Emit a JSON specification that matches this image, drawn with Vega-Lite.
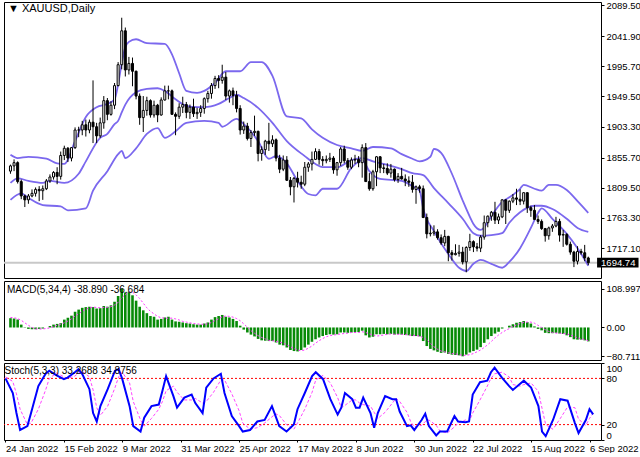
{
"$schema":"https://vega.github.io/schema/vega-lite/v6.json",
"padding":{"left":0,"top":-1,"right":0,"bottom":0},
"autosize":{"type":"pad"},
"spacing":3,
"bounds":"flush",
"background":"white",
"config":{
 "view":{"stroke":"#000000","strokeWidth":1},
 "axis":{"labelFont":"Liberation Sans","labelFontSize":9.5,"labelColor":"#000000","tickColor":"#000000","domain":false,"grid":false,"tickSize":3,"labelPadding":2},
 "title":{"font":"Liberation Sans","fontSize":11,"fontWeight":"normal","color":"#000000","anchor":"start"}
},
"datasets":{
"c":[
{"i":0,"o":1835,"h":1845,"l":1831,"c":1843},{"i":1,"o":1843,"h":1853,"l":1835,"c":1848},{"i":2,"o":1848,"h":1850,"l":1816,"c":1819},{"i":3,"o":1819,"h":1822,"l":1792,"c":1797},{"i":4,"o":1797,"h":1799,"l":1780,"c":1791},
{"i":5,"o":1791,"h":1800,"l":1785,"c":1797},{"i":6,"o":1797,"h":1807,"l":1795,"c":1801},{"i":7,"o":1801,"h":1810,"l":1796,"c":1807},{"i":8,"o":1807,"h":1812,"l":1789,"c":1805},{"i":9,"o":1805,"h":1813,"l":1791,"c":1808},
{"i":10,"o":1808,"h":1823,"l":1806,"c":1820},{"i":11,"o":1820,"h":1830,"l":1817,"c":1826},{"i":12,"o":1826,"h":1835,"l":1822,"c":1833},{"i":13,"o":1833,"h":1841,"l":1815,"c":1827},{"i":14,"o":1827,"h":1865,"l":1822,"c":1859},
{"i":15,"o":1859,"h":1874,"l":1852,"c":1870},{"i":16,"o":1870,"h":1872,"l":1849,"c":1855},{"i":17,"o":1855,"h":1872,"l":1850,"c":1871},{"i":18,"o":1871,"h":1902,"l":1869,"c":1898},{"i":19,"o":1898,"h":1903,"l":1887,"c":1898},
{"i":20,"o":1898,"h":1912,"l":1890,"c":1906},{"i":21,"o":1906,"h":1914,"l":1888,"c":1898},{"i":22,"o":1898,"h":1914,"l":1893,"c":1910},{"i":23,"o":1910,"h":1974,"l":1878,"c":1903},{"i":24,"o":1903,"h":1909,"l":1878,"c":1889},
{"i":25,"o":1889,"h":1917,"l":1886,"c":1909},{"i":26,"o":1909,"h":1950,"l":1900,"c":1943},{"i":27,"o":1943,"h":1947,"l":1913,"c":1922},{"i":28,"o":1922,"h":1942,"l":1920,"c":1936},{"i":29,"o":1936,"h":1970,"l":1930,"c":1966},
{"i":30,"o":1966,"h":2002,"l":1965,"c":1998},{"i":31,"o":1998,"h":2070,"l":1991,"c":2050},{"i":32,"o":2050,"h":2055,"l":1980,"c":1990},{"i":33,"o":1990,"h":2010,"l":1983,"c":2000},{"i":34,"o":2000,"h":2009,"l":1965,"c":1988},
{"i":35,"o":1988,"h":1989,"l":1945,"c":1950},{"i":36,"o":1950,"h":1954,"l":1906,"c":1917},{"i":37,"o":1917,"h":1950,"l":1895,"c":1928},{"i":38,"o":1928,"h":1949,"l":1920,"c":1943},{"i":39,"o":1943,"h":1945,"l":1917,"c":1921},
{"i":40,"o":1921,"h":1943,"l":1917,"c":1936},{"i":41,"o":1936,"h":1938,"l":1910,"c":1921},{"i":42,"o":1921,"h":1948,"l":1920,"c":1944},{"i":43,"o":1944,"h":1966,"l":1943,"c":1958},{"i":44,"o":1958,"h":1966,"l":1945,"c":1958},
{"i":45,"o":1958,"h":1960,"l":1922,"c":1922},{"i":46,"o":1922,"h":1925,"l":1890,"c":1919},{"i":47,"o":1919,"h":1939,"l":1915,"c":1933},{"i":48,"o":1933,"h":1949,"l":1924,"c":1937},{"i":49,"o":1937,"h":1941,"l":1916,"c":1925},
{"i":50,"o":1925,"h":1937,"l":1915,"c":1933},{"i":51,"o":1933,"h":1946,"l":1918,"c":1923},{"i":52,"o":1923,"h":1932,"l":1915,"c":1925},{"i":53,"o":1925,"h":1936,"l":1918,"c":1931},{"i":54,"o":1931,"h":1948,"l":1923,"c":1946},
{"i":55,"o":1946,"h":1958,"l":1940,"c":1954},{"i":56,"o":1954,"h":1970,"l":1946,"c":1966},{"i":57,"o":1966,"h":1981,"l":1961,"c":1977},{"i":58,"o":1977,"h":1982,"l":1962,"c":1974},{"i":59,"o":1974,"h":1998,"l":1969,"c":1979},
{"i":60,"o":1979,"h":1987,"l":1944,"c":1950},{"i":61,"o":1950,"h":1960,"l":1940,"c":1958},{"i":62,"o":1958,"h":1963,"l":1936,"c":1951},{"i":63,"o":1951,"h":1958,"l":1925,"c":1931},{"i":64,"o":1931,"h":1936,"l":1891,"c":1898},
{"i":65,"o":1898,"h":1911,"l":1892,"c":1904},{"i":66,"o":1904,"h":1909,"l":1882,"c":1885},{"i":67,"o":1885,"h":1898,"l":1872,"c":1894},{"i":68,"o":1894,"h":1920,"l":1889,"c":1896},{"i":69,"o":1896,"h":1897,"l":1850,"c":1862},
{"i":70,"o":1862,"h":1873,"l":1851,"c":1868},{"i":71,"o":1868,"h":1883,"l":1860,"c":1881},{"i":72,"o":1881,"h":1909,"l":1866,"c":1877},{"i":73,"o":1877,"h":1890,"l":1872,"c":1883},{"i":74,"o":1883,"h":1885,"l":1850,"c":1855},
{"i":75,"o":1855,"h":1860,"l":1832,"c":1838},{"i":76,"o":1838,"h":1859,"l":1835,"c":1852},{"i":77,"o":1852,"h":1858,"l":1820,"c":1821},{"i":78,"o":1821,"h":1826,"l":1798,"c":1811},{"i":79,"o":1811,"h":1826,"l":1787,"c":1824},
{"i":80,"o":1824,"h":1834,"l":1810,"c":1818},{"i":81,"o":1818,"h":1828,"l":1808,"c":1815},{"i":82,"o":1815,"h":1849,"l":1812,"c":1841},{"i":83,"o":1841,"h":1849,"l":1834,"c":1846},{"i":84,"o":1846,"h":1865,"l":1836,"c":1853},
{"i":85,"o":1853,"h":1870,"l":1852,"c":1865},{"i":86,"o":1865,"h":1869,"l":1845,"c":1853},{"i":87,"o":1853,"h":1858,"l":1843,"c":1851},{"i":88,"o":1851,"h":1859,"l":1847,"c":1853},{"i":89,"o":1853,"h":1863,"l":1849,"c":1855},
{"i":90,"o":1855,"h":1858,"l":1831,"c":1837},{"i":91,"o":1837,"h":1849,"l":1828,"c":1848},{"i":92,"o":1848,"h":1872,"l":1843,"c":1869},{"i":93,"o":1869,"h":1874,"l":1847,"c":1851},{"i":94,"o":1851,"h":1855,"l":1837,"c":1841},
{"i":95,"o":1841,"h":1856,"l":1838,"c":1852},{"i":96,"o":1852,"h":1860,"l":1846,"c":1853},{"i":97,"o":1853,"h":1858,"l":1841,"c":1848},{"i":98,"o":1848,"h":1876,"l":1825,"c":1871},{"i":99,"o":1871,"h":1878,"l":1819,"c":1819},
{"i":100,"o":1819,"h":1832,"l":1805,"c":1808},{"i":101,"o":1808,"h":1837,"l":1805,"c":1834},{"i":102,"o":1834,"h":1858,"l":1812,"c":1857},{"i":103,"o":1857,"h":1858,"l":1832,"c":1840},{"i":104,"o":1840,"h":1846,"l":1832,"c":1839},
{"i":105,"o":1839,"h":1847,"l":1829,"c":1832},{"i":106,"o":1832,"h":1846,"l":1825,"c":1838},{"i":107,"o":1838,"h":1839,"l":1819,"c":1822},{"i":108,"o":1822,"h":1832,"l":1817,"c":1827},{"i":109,"o":1827,"h":1840,"l":1822,"c":1823},
{"i":110,"o":1823,"h":1830,"l":1812,"c":1820},{"i":111,"o":1820,"h":1827,"l":1811,"c":1818},{"i":112,"o":1818,"h":1829,"l":1802,"c":1807},{"i":113,"o":1807,"h":1813,"l":1785,"c":1811},{"i":114,"o":1811,"h":1814,"l":1802,"c":1808},
{"i":115,"o":1808,"h":1813,"l":1763,"c":1764},{"i":116,"o":1764,"h":1770,"l":1732,"c":1739},{"i":117,"o":1739,"h":1752,"l":1735,"c":1740},{"i":118,"o":1740,"h":1752,"l":1736,"c":1742},{"i":119,"o":1742,"h":1746,"l":1730,"c":1733},
{"i":120,"o":1733,"h":1738,"l":1722,"c":1725},{"i":121,"o":1725,"h":1745,"l":1720,"c":1735},{"i":122,"o":1735,"h":1736,"l":1697,"c":1710},{"i":123,"o":1710,"h":1714,"l":1698,"c":1707},{"i":124,"o":1707,"h":1723,"l":1706,"c":1709},
{"i":125,"o":1709,"h":1722,"l":1704,"c":1711},{"i":126,"o":1711,"h":1719,"l":1692,"c":1696},{"i":127,"o":1696,"h":1720,"l":1680,"c":1718},{"i":128,"o":1718,"h":1739,"l":1713,"c":1727},{"i":129,"o":1727,"h":1729,"l":1711,"c":1719},
{"i":130,"o":1719,"h":1725,"l":1712,"c":1717},{"i":131,"o":1717,"h":1737,"l":1711,"c":1734},{"i":132,"o":1734,"h":1767,"l":1730,"c":1756},{"i":133,"o":1756,"h":1767,"l":1749,"c":1766},{"i":134,"o":1766,"h":1774,"l":1759,"c":1772},
{"i":135,"o":1772,"h":1788,"l":1754,"c":1760},{"i":136,"o":1760,"h":1770,"l":1754,"c":1765},{"i":137,"o":1765,"h":1792,"l":1763,"c":1791},{"i":138,"o":1791,"h":1792,"l":1754,"c":1775},{"i":139,"o":1775,"h":1790,"l":1771,"c":1789},
{"i":140,"o":1789,"h":1800,"l":1786,"c":1794},{"i":141,"o":1794,"h":1808,"l":1783,"c":1792},{"i":142,"o":1792,"h":1807,"l":1783,"c":1789},{"i":143,"o":1789,"h":1802,"l":1784,"c":1802},{"i":144,"o":1802,"h":1802,"l":1771,"c":1779},
{"i":145,"o":1779,"h":1782,"l":1765,"c":1775},{"i":146,"o":1775,"h":1783,"l":1760,"c":1761},{"i":147,"o":1761,"h":1767,"l":1754,"c":1758},{"i":148,"o":1758,"h":1761,"l":1745,"c":1747},{"i":149,"o":1747,"h":1748,"l":1727,"c":1736},
{"i":150,"o":1736,"h":1750,"l":1730,"c":1748},{"i":151,"o":1748,"h":1754,"l":1742,"c":1751},{"i":152,"o":1751,"h":1765,"l":1749,"c":1758},{"i":153,"o":1758,"h":1762,"l":1727,"c":1737},{"i":154,"o":1737,"h":1745,"l":1719,"c":1738},
{"i":155,"o":1738,"h":1740,"l":1721,"c":1723},{"i":156,"o":1723,"h":1727,"l":1707,"c":1711},{"i":157,"o":1711,"h":1713,"l":1688,"c":1697},{"i":158,"o":1697,"h":1720,"l":1692,"c":1712},{"i":159,"o":1712,"h":1716,"l":1707,"c":1710},
{"i":160,"o":1710,"h":1722,"l":1697,"c":1702},{"i":161,"o":1702,"h":1704,"l":1691,"c":1694.74}
],
"bb":[
{"i":0,"b":"u","v":1860},{"i":2,"b":"u","v":1855},{"i":5,"b":"u","v":1857},{"i":10,"b":"u","v":1854},{"i":13,"b":"u","v":1847},{"i":15,"b":"u","v":1846},{"i":18,"b":"u","v":1881},{"i":21,"b":"u","v":1918},{"i":24,"b":"u","v":1933},{"i":27,"b":"u","v":1938},{"i":29,"b":"u","v":1945},{"i":30,"b":"u","v":1968},{"i":31,"b":"u","v":2000},{"i":32,"b":"u","v":2025},{"i":33,"b":"u","v":2033},{"i":35,"b":"u","v":2037},{"i":38,"b":"u","v":2031},{"i":43,"b":"u","v":2030},{"i":45,"b":"u","v":2014},{"i":47,"b":"u","v":1985},{"i":49,"b":"u","v":1958},{"i":52,"b":"u","v":1955},{"i":54,"b":"u","v":1958},{"i":57,"b":"u","v":1970},{"i":60,"b":"u","v":1988},{"i":64,"b":"u","v":1988},{"i":67,"b":"u","v":2002},{"i":70,"b":"u","v":2002},{"i":73,"b":"u","v":1981},{"i":77,"b":"u","v":1919},{"i":81,"b":"u","v":1916},{"i":84,"b":"u","v":1899},{"i":87,"b":"u","v":1886},{"i":91,"b":"u","v":1875},{"i":95,"b":"u","v":1870},{"i":98,"b":"u","v":1866},{"i":101,"b":"u","v":1872},{"i":106,"b":"u","v":1870},{"i":109,"b":"u","v":1861},{"i":112,"b":"u","v":1854},{"i":114,"b":"u","v":1850},{"i":117,"b":"u","v":1857},{"i":118,"b":"u","v":1869},{"i":120,"b":"u","v":1863},{"i":123,"b":"u","v":1831},{"i":126,"b":"u","v":1790},{"i":128,"b":"u","v":1765},{"i":129,"b":"u","v":1754},{"i":131,"b":"u","v":1745},{"i":132,"b":"u","v":1749},{"i":134,"b":"u","v":1766},{"i":137,"b":"u","v":1788},{"i":139,"b":"u","v":1795},{"i":142,"b":"u","v":1808},{"i":143,"b":"u","v":1814},{"i":146,"b":"u","v":1808},{"i":148,"b":"u","v":1805},{"i":150,"b":"u","v":1814},{"i":152,"b":"u","v":1814},{"i":155,"b":"u","v":1806},{"i":158,"b":"u","v":1789},{"i":161,"b":"u","v":1771},
{"i":0,"b":"m","v":1817},{"i":2,"b":"m","v":1824},{"i":5,"b":"m","v":1820},{"i":9,"b":"m","v":1817},{"i":11,"b":"m","v":1820},{"i":15,"b":"m","v":1817},{"i":19,"b":"m","v":1831},{"i":21,"b":"m","v":1850},{"i":25,"b":"m","v":1886},{"i":27,"b":"m","v":1892},{"i":29,"b":"m","v":1907},{"i":30,"b":"m","v":1912},{"i":31,"b":"m","v":1925},{"i":32,"b":"m","v":1937},{"i":35,"b":"m","v":1956},{"i":38,"b":"m","v":1961},{"i":41,"b":"m","v":1962},{"i":43,"b":"m","v":1958},{"i":46,"b":"m","v":1945},{"i":49,"b":"m","v":1935},{"i":52,"b":"m","v":1933},{"i":54,"b":"m","v":1933},{"i":58,"b":"m","v":1938},{"i":61,"b":"m","v":1947},{"i":63,"b":"m","v":1952},{"i":65,"b":"m","v":1947},{"i":69,"b":"m","v":1932},{"i":73,"b":"m","v":1909},{"i":77,"b":"m","v":1881},{"i":82,"b":"m","v":1858},{"i":85,"b":"m","v":1846},{"i":87,"b":"m","v":1841},{"i":91,"b":"m","v":1841},{"i":95,"b":"m","v":1852},{"i":98,"b":"m","v":1855},{"i":101,"b":"m","v":1850},{"i":104,"b":"m","v":1846},{"i":109,"b":"m","v":1838},{"i":112,"b":"m","v":1832},{"i":115,"b":"m","v":1829},{"i":118,"b":"m","v":1809},{"i":122,"b":"m","v":1786},{"i":126,"b":"m","v":1762},{"i":129,"b":"m","v":1740},{"i":131,"b":"m","v":1736},{"i":134,"b":"m","v":1737},{"i":137,"b":"m","v":1740},{"i":139,"b":"m","v":1756},{"i":142,"b":"m","v":1772},{"i":146,"b":"m","v":1782},{"i":148,"b":"m","v":1782},{"i":151,"b":"m","v":1777},{"i":155,"b":"m","v":1762},{"i":158,"b":"m","v":1748},{"i":161,"b":"m","v":1742},
{"i":0,"b":"l","v":1791},{"i":3,"b":"l","v":1801},{"i":5,"b":"l","v":1794},{"i":9,"b":"l","v":1783},{"i":14,"b":"l","v":1781},{"i":16,"b":"l","v":1775},{"i":21,"b":"l","v":1778},{"i":23,"b":"l","v":1805},{"i":27,"b":"l","v":1835},{"i":30,"b":"l","v":1861},{"i":31,"b":"l","v":1866},{"i":32,"b":"l","v":1855},{"i":35,"b":"l","v":1870},{"i":38,"b":"l","v":1892},{"i":41,"b":"l","v":1901},{"i":43,"b":"l","v":1886},{"i":46,"b":"l","v":1896},{"i":49,"b":"l","v":1909},{"i":54,"b":"l","v":1912},{"i":58,"b":"l","v":1909},{"i":59,"b":"l","v":1903},{"i":63,"b":"l","v":1915},{"i":65,"b":"l","v":1907},{"i":69,"b":"l","v":1881},{"i":72,"b":"l","v":1854},{"i":74,"b":"l","v":1858},{"i":77,"b":"l","v":1847},{"i":80,"b":"l","v":1820},{"i":83,"b":"l","v":1800},{"i":85,"b":"l","v":1798},{"i":87,"b":"l","v":1808},{"i":91,"b":"l","v":1808},{"i":95,"b":"l","v":1840},{"i":98,"b":"l","v":1852},{"i":100,"b":"l","v":1835},{"i":103,"b":"l","v":1823},{"i":109,"b":"l","v":1820},{"i":112,"b":"l","v":1812},{"i":114,"b":"l","v":1805},{"i":115,"b":"l","v":1778},{"i":118,"b":"l","v":1743},{"i":122,"b":"l","v":1708},{"i":125,"b":"l","v":1687},{"i":127,"b":"l","v":1682},{"i":129,"b":"l","v":1693},{"i":131,"b":"l","v":1699},{"i":134,"b":"l","v":1693},{"i":137,"b":"l","v":1687},{"i":139,"b":"l","v":1696},{"i":142,"b":"l","v":1717},{"i":145,"b":"l","v":1748},{"i":147,"b":"l","v":1771},{"i":148,"b":"l","v":1778},{"i":151,"b":"l","v":1762},{"i":155,"b":"l","v":1739},{"i":158,"b":"l","v":1717},{"i":161,"b":"l","v":1690}
],
"macd":[
{"i":0,"m":26,"s":28},{"i":1,"m":25,"s":27},{"i":2,"m":22,"s":25},{"i":3,"m":8,"s":20},{"i":4,"m":-1,"s":13},{"i":5,"m":-4,"s":6},{"i":6,"m":-5,"s":0},{"i":7,"m":-5,"s":-4},{"i":8,"m":-4,"s":-4.5},{"i":9,"m":-3,"s":-4},
{"i":10,"m":0,"s":-3},{"i":11,"m":4,"s":-1},{"i":12,"m":8,"s":2},{"i":13,"m":10,"s":6},{"i":14,"m":12,"s":9},{"i":15,"m":22,"s":13},{"i":16,"m":27,"s":18},{"i":17,"m":33,"s":24},{"i":18,"m":44,"s":32},{"i":19,"m":50,"s":38},
{"i":20,"m":55,"s":45},{"i":21,"m":57,"s":51},{"i":22,"m":58,"s":55},{"i":23,"m":57,"s":57},{"i":24,"m":53,"s":56},{"i":25,"m":54,"s":55},{"i":26,"m":60,"s":56},{"i":27,"m":58,"s":56},{"i":28,"m":62,"s":58},{"i":29,"m":72,"s":63},
{"i":30,"m":88,"s":70},{"i":31,"m":108.997,"s":83},{"i":32,"m":98,"s":92},{"i":33,"m":100,"s":99},{"i":34,"m":90,"s":99},{"i":35,"m":75,"s":91},{"i":36,"m":58,"s":81},{"i":37,"m":48,"s":68},{"i":38,"m":40,"s":55},{"i":39,"m":32,"s":45},
{"i":40,"m":30,"s":38},{"i":41,"m":22,"s":31},{"i":42,"m":24,"s":27},{"i":43,"m":28,"s":26},{"i":44,"m":30,"s":26},{"i":45,"m":22,"s":26},{"i":46,"m":17,"s":24},{"i":47,"m":16,"s":21},{"i":48,"m":14,"s":17},{"i":49,"m":12,"s":15},
{"i":50,"m":11,"s":13},{"i":51,"m":9,"s":11},{"i":52,"m":8,"s":10},{"i":53,"m":8,"s":9},{"i":54,"m":11,"s":9},{"i":55,"m":14,"s":10},{"i":56,"m":22,"s":14},{"i":57,"m":29,"s":19},{"i":58,"m":32,"s":24},{"i":59,"m":35,"s":30},
{"i":60,"m":30,"s":32},{"i":61,"m":28,"s":31},{"i":62,"m":24,"s":29},{"i":63,"m":18,"s":25},{"i":64,"m":5,"s":19},{"i":65,"m":-6,"s":10},{"i":66,"m":-14,"s":1},{"i":67,"m":-20,"s":-9},{"i":68,"m":-25,"s":-16},{"i":69,"m":-32,"s":-23},
{"i":70,"m":-36,"s":-28},{"i":71,"m":-37,"s":-32},{"i":72,"m":-38,"s":-36},{"i":73,"m":-38,"s":-37},{"i":74,"m":-42,"s":-39},{"i":75,"m":-48,"s":-41},{"i":76,"m":-50,"s":-44},{"i":77,"m":-56,"s":-49},{"i":78,"m":-63,"s":-54},{"i":79,"m":-66,"s":-59},
{"i":80,"m":-67,"s":-63},{"i":81,"m":-63,"s":-65},{"i":82,"m":-56,"s":-63},{"i":83,"m":-48,"s":-58},{"i":84,"m":-40,"s":-52},{"i":85,"m":-33,"s":-44},{"i":86,"m":-28,"s":-37},{"i":87,"m":-24,"s":-31},{"i":88,"m":-21,"s":-26},{"i":89,"m":-19,"s":-23},
{"i":90,"m":-20,"s":-21},{"i":91,"m":-19,"s":-20},{"i":92,"m":-14,"s":-18},{"i":93,"m":-14,"s":-17},{"i":94,"m":-15,"s":-16},{"i":95,"m":-14,"s":-14},{"i":96,"m":-13,"s":-14},{"i":97,"m":-13,"s":-14},{"i":98,"m":-9,"s":-12},{"i":99,"m":-22,"s":-14},
{"i":100,"m":-28,"s":-18},{"i":101,"m":-26,"s":-21},{"i":102,"m":-19,"s":-24},{"i":103,"m":-19,"s":-23},{"i":104,"m":-18,"s":-21},{"i":105,"m":-19,"s":-19},{"i":106,"m":-18,"s":-18},{"i":107,"m":-20,"s":-19},{"i":108,"m":-19,"s":-19},{"i":109,"m":-20,"s":-19},
{"i":110,"m":-21,"s":-20},{"i":111,"m":-22,"s":-21},{"i":112,"m":-24,"s":-22},{"i":113,"m":-24,"s":-23},{"i":114,"m":-25,"s":-24},{"i":115,"m":-38,"s":-28},{"i":116,"m":-52,"s":-35},{"i":117,"m":-60,"s":-44},{"i":118,"m":-64,"s":-54},{"i":119,"m":-68,"s":-61},
{"i":120,"m":-71,"s":-66},{"i":121,"m":-70,"s":-68},{"i":122,"m":-74,"s":-71},{"i":123,"m":-76,"s":-73},{"i":124,"m":-77,"s":-74},{"i":125,"m":-78,"s":-76},{"i":126,"m":-80.711,"s":-78},{"i":127,"m":-76,"s":-78},{"i":128,"m":-70,"s":-76},{"i":129,"m":-66,"s":-73},
{"i":130,"m":-62,"s":-68},{"i":131,"m":-55,"s":-63},{"i":132,"m":-43,"s":-56},{"i":133,"m":-33,"s":-48},{"i":134,"m":-24,"s":-39},{"i":135,"m":-17,"s":-29},{"i":136,"m":-12,"s":-21},{"i":137,"m":-3,"s":-14},{"i":138,"m":0,"s":-8},{"i":139,"m":5,"s":-3},
{"i":140,"m":9,"s":3},{"i":141,"m":13,"s":7},{"i":142,"m":15,"s":11},{"i":143,"m":18,"s":14},{"i":144,"m":15,"s":15},{"i":145,"m":11,"s":15},{"i":146,"m":3,"s":12},{"i":147,"m":-4,"s":6},{"i":148,"m":-8,"s":0},{"i":149,"m":-15,"s":-6},
{"i":150,"m":-16,"s":-11},{"i":151,"m":-16,"s":-14},{"i":152,"m":-15,"s":-16},{"i":153,"m":-17,"s":-16},{"i":154,"m":-18,"s":-17},{"i":155,"m":-22,"s":-18},{"i":156,"m":-27,"s":-21},{"i":157,"m":-33,"s":-25},{"i":158,"m":-34,"s":-29},{"i":159,"m":-34,"s":-32},
{"i":160,"m":-36,"s":-34},{"i":161,"m":-38.89,"s":-36.684}
],
"st":[
{"i":0,"k":80,"d":82},{"i":2,"k":61,"d":76},{"i":3,"k":35,"d":60},{"i":4,"k":13,"d":40},{"i":6,"k":18,"d":20},{"i":7,"k":35,"d":22},{"i":9,"k":70,"d":40},{"i":11,"k":86,"d":65},{"i":12,"k":90,"d":80},{"i":14,"k":84,"d":87},{"i":16,"k":79,"d":82},{"i":17,"k":81,"d":80},{"i":19,"k":88,"d":83},{"i":20,"k":92,"d":87},{"i":21,"k":86,"d":89},{"i":23,"k":66,"d":82},{"i":24,"k":35,"d":65},{"i":25,"k":24,"d":42},{"i":26,"k":44,"d":32},{"i":28,"k":66,"d":44},{"i":30,"k":90,"d":68},{"i":31,"k":92,"d":82},{"i":32,"k":79,"d":88},{"i":34,"k":44,"d":74},{"i":35,"k":18,"d":50},{"i":37,"k":11,"d":26},{"i":38,"k":29,"d":18},{"i":40,"k":44,"d":28},{"i":42,"k":46,"d":40},{"i":43,"k":64,"d":50},{"i":44,"k":83,"d":64},{"i":46,"k":57,"d":70},{"i":47,"k":42,"d":62},{"i":49,"k":55,"d":52},{"i":51,"k":59,"d":52},{"i":52,"k":48,"d":54},{"i":54,"k":35,"d":48},{"i":55,"k":68,"d":50},{"i":57,"k":80,"d":62},{"i":59,"k":86,"d":78},{"i":60,"k":61,"d":78},{"i":62,"k":31,"d":60},{"i":64,"k":18,"d":38},{"i":65,"k":11,"d":22},{"i":67,"k":13,"d":14},{"i":69,"k":24,"d":16},{"i":71,"k":26,"d":22},{"i":73,"k":44,"d":30},{"i":74,"k":31,"d":34},{"i":75,"k":18,"d":32},{"i":77,"k":11,"d":20},{"i":79,"k":20,"d":14},{"i":80,"k":40,"d":22},{"i":82,"k":61,"d":40},{"i":84,"k":83,"d":62},{"i":85,"k":88,"d":78},{"i":87,"k":79,"d":84},{"i":89,"k":53,"d":74},{"i":91,"k":33,"d":55},{"i":92,"k":42,"d":42},{"i":93,"k":61,"d":45},{"i":95,"k":53,"d":52},{"i":96,"k":42,"d":52},{"i":97,"k":42,"d":48},{"i":98,"k":55,"d":46},{"i":100,"k":35,"d":44},{"i":101,"k":16,"d":36},{"i":102,"k":35,"d":28},{"i":104,"k":57,"d":36},{"i":106,"k":53,"d":48},{"i":107,"k":53,"d":54},{"i":108,"k":37,"d":50},{"i":110,"k":18,"d":36},{"i":111,"k":19,"d":24},{"i":112,"k":13,"d":17},{"i":114,"k":26,"d":19},{"i":115,"k":34,"d":24},{"i":116,"k":18,"d":26},{"i":118,"k":6,"d":19},{"i":119,"k":11,"d":12},{"i":121,"k":11,"d":9},{"i":123,"k":31,"d":17},{"i":124,"k":24,"d":22},{"i":126,"k":23,"d":26},{"i":127,"k":24,"d":24},{"i":128,"k":59,"d":35},{"i":130,"k":75,"d":52},{"i":132,"k":77,"d":70},{"i":133,"k":88,"d":80},{"i":134,"k":94,"d":86},{"i":136,"k":81,"d":88},{"i":138,"k":70,"d":82},{"i":139,"k":65,"d":72},{"i":141,"k":73,"d":70},{"i":142,"k":77,"d":72},{"i":144,"k":68,"d":74},{"i":146,"k":44,"d":63},{"i":147,"k":11,"d":41},{"i":148,"k":5,"d":20},{"i":150,"k":26,"d":14},{"i":152,"k":53,"d":28},{"i":154,"k":51,"d":43},{"i":156,"k":22,"d":42},{"i":157,"k":9,"d":27},{"i":159,"k":26,"d":19},{"i":160,"k":40,"d":28},{"i":161,"k":33.2688,"d":34.8756}
]
},
"vconcat":[
{
 "width":597,"height":276,
 "title":{"text":"▼ XAUUSD,Daily","offset":-14,"dx":5},
 "layer":[
  {"data":{"values":[{"p":1694.74}]},"mark":{"type":"rule","color":"#c8c8c8","strokeWidth":2},
   "encoding":{"y":{"field":"p","type":"quantitative","scale":{"domain":[1671.3,2094.1],"nice":false,"zero":false},
     "axis":{"orient":"right","values":[2089.5,2041.9,1995.7,1949.5,1903.3,1855.7,1809.5,1763.3,1717.1,1670.9],"format":".2f","title":null,"labelFlush":false,"labelOverlap":false}}}},
  {"data":{"name":"bb"},"mark":{"type":"line","color":"#7b68ee","strokeWidth":1.8,"interpolate":"monotone"},
   "encoding":{"x":{"field":"i","type":"quantitative","scale":{"domain":[-0.41,163.15],"nice":false,"zero":false},"axis":null},
    "y":{"field":"v","type":"quantitative","scale":{"domain":[1671.3,2094.1],"nice":false,"zero":false},
     "axis":{"orient":"right","values":[2089.5,2041.9,1995.7,1949.5,1903.3,1855.7,1809.5,1763.3,1717.1,1670.9],"format":".2f","title":null,"labelFlush":false,"labelOverlap":false}},
    "detail":{"field":"b"}}},
  {"data":{"name":"c"},"mark":{"type":"rule","color":"#000000","strokeWidth":1},
   "encoding":{"x":{"field":"i","type":"quantitative","scale":{"domain":[-0.41,163.15],"nice":false,"zero":false},"axis":null},
    "y":{"field":"l","type":"quantitative","scale":{"domain":[1671.3,2094.1],"nice":false,"zero":false},
     "axis":{"orient":"right","values":[2089.5,2041.9,1995.7,1949.5,1903.3,1855.7,1809.5,1763.3,1717.1,1670.9],"format":".2f","title":null,"labelFlush":false,"labelOverlap":false}},
    "y2":{"field":"h"}}},
  {"data":{"name":"c"},"mark":{"type":"bar","size":2,"stroke":"#000000","strokeWidth":1},
   "encoding":{"x":{"field":"i","type":"quantitative","scale":{"domain":[-0.41,163.15],"nice":false,"zero":false},"axis":null},
    "y":{"field":"o","type":"quantitative","scale":{"domain":[1671.3,2094.1],"nice":false,"zero":false},
     "axis":{"orient":"right","values":[2089.5,2041.9,1995.7,1949.5,1903.3,1855.7,1809.5,1763.3,1717.1,1670.9],"format":".2f","title":null,"labelFlush":false,"labelOverlap":false}},
    "y2":{"field":"c"},
    "fill":{"condition":{"test":"datum.c >= datum.o","value":"#ffffff"},"value":"#000000"}}},
  {"data":{"values":[{"p":1694.74}]},"mark":{"type":"rect","color":"#000000","clip":false},
   "encoding":{"x":{"datum":163.45,"type":"quantitative","scale":{"domain":[-0.41,163.15],"nice":false,"zero":false},"axis":null},"x2":{"datum":175},
    "y":{"datum":1702.5,"type":"quantitative","scale":{"domain":[1671.3,2094.1],"nice":false,"zero":false},
     "axis":{"orient":"right","values":[2089.5,2041.9,1995.7,1949.5,1903.3,1855.7,1809.5,1763.3,1717.1,1670.9],"format":".2f","title":null,"labelFlush":false,"labelOverlap":false}},"y2":{"datum":1687.2}}},
  {"data":{"values":[{"p":1694.74}]},"mark":{"type":"text","color":"#ffffff","align":"left","baseline":"middle","dx":4,"font":"Liberation Sans","fontSize":9.5,"clip":false},
   "encoding":{"x":{"datum":163.45,"type":"quantitative","scale":{"domain":[-0.41,163.15],"nice":false,"zero":false},"axis":null},
    "y":{"field":"p","type":"quantitative","scale":{"domain":[1671.3,2094.1],"nice":false,"zero":false},
     "axis":{"orient":"right","values":[2089.5,2041.9,1995.7,1949.5,1903.3,1855.7,1809.5,1763.3,1717.1,1670.9],"format":".2f","title":null,"labelFlush":false,"labelOverlap":false}},
    "text":{"field":"p","type":"quantitative","format":".2f"}}}
 ]
},
{
 "width":597,"height":79,
 "title":{"text":"MACD(5,34,4) -38.890 -36.684","offset":-14,"dx":3,"fontSize":10},
 "data":{"name":"macd"},
 "layer":[
  {"mark":{"type":"bar","size":2.6,"color":"#078a07"},
   "encoding":{"x":{"field":"i","type":"quantitative","scale":{"domain":[-0.41,163.15],"nice":false,"zero":false},"axis":null},
    "y":{"field":"m","type":"quantitative","scale":{"domain":[-91,130],"nice":false,"zero":false},
     "axis":{"orient":"right","values":[108.997,0,-80.711],"labelExpr":"datum.value == 0 ? '0.00' : format(datum.value, '.3f')","title":null,"labelFlush":false,"labelOverlap":false}},
    "y2":{"datum":0}}},
  {"mark":{"type":"line","color":"#ff33ff","strokeWidth":1,"strokeDash":[2,2]},
   "encoding":{"x":{"field":"i","type":"quantitative","scale":{"domain":[-0.41,163.15],"nice":false,"zero":false},"axis":null},
    "y":{"field":"s","type":"quantitative","scale":{"domain":[-91,130],"nice":false,"zero":false},
     "axis":{"orient":"right","values":[108.997,0,-80.711],"labelExpr":"datum.value == 0 ? '0.00' : format(datum.value, '.3f')","title":null,"labelFlush":false,"labelOverlap":false}}}}
 ]
},
{
 "width":597,"height":77,
 "title":{"text":"Stoch(5,3,3) 33.2688 34.8756","offset":-13,"dx":3,"fontSize":10},
 "layer":[
  {"data":{"values":[{"lv":80},{"lv":20}]},"mark":{"type":"rule","color":"#ff0000","strokeWidth":1,"strokeDash":[2,2]},
   "encoding":{"y":{"field":"lv","type":"quantitative","scale":{"domain":[0,100],"nice":false},
     "axis":{"orient":"right","values":[100,80,20,0],"title":null,"labelFlush":true,"labelOverlap":false}}}},
  {"data":{"name":"st"},"mark":{"type":"line","color":"#ff44ff","strokeWidth":1,"strokeDash":[3,2]},
   "encoding":{"x":{"field":"i","type":"quantitative","scale":{"domain":[-0.41,163.15],"nice":false,"zero":false},
     "axis":{"values":[0,16,32,48,64,80,96,112,128,144,160],"labelExpr":"['24 Jan 2022','15 Feb 2022','9 Mar 2022','31 Mar 2022','25 Apr 2022','17 May 2022','8 Jun 2022','30 Jun 2022','22 Jul 2022','15 Aug 2022','6 Sep 2022'][round(datum.value/16)]","labelAlign":"left","labelFlush":false,"labelOverlap":false,"labelBound":false,"title":null,"tickSize":2,"labelPadding":1}},
    "y":{"field":"d","type":"quantitative","scale":{"domain":[0,100],"nice":false},
     "axis":{"orient":"right","values":[100,80,20,0],"title":null,"labelFlush":true,"labelOverlap":false}}}},
  {"data":{"name":"st"},"mark":{"type":"line","color":"#0000ff","strokeWidth":2},
   "encoding":{"x":{"field":"i","type":"quantitative","scale":{"domain":[-0.41,163.15],"nice":false,"zero":false},
     "axis":{"values":[0,16,32,48,64,80,96,112,128,144,160],"labelExpr":"['24 Jan 2022','15 Feb 2022','9 Mar 2022','31 Mar 2022','25 Apr 2022','17 May 2022','8 Jun 2022','30 Jun 2022','22 Jul 2022','15 Aug 2022','6 Sep 2022'][round(datum.value/16)]","labelAlign":"left","labelFlush":false,"labelOverlap":false,"labelBound":false,"title":null,"tickSize":2,"labelPadding":1}},
    "y":{"field":"k","type":"quantitative","scale":{"domain":[0,100],"nice":false},
     "axis":{"orient":"right","values":[100,80,20,0],"title":null,"labelFlush":true,"labelOverlap":false}}}}
 ]
}
]
}
